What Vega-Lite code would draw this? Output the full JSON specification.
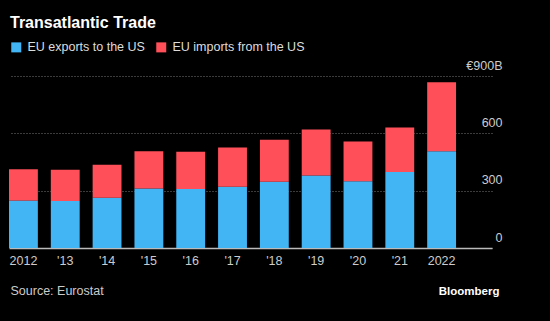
{
  "$schema": "https://vega.github.io/schema/vega-lite/v6.json",
  "width": 483,
  "height": 172,
  "autosize": "none",
  "padding": {"left": 9, "top": 76, "right": 58, "bottom": 73},
  "background": "#000000",
  "title": {
    "text": "Transatlantic Trade",
    "anchor": "start",
    "frame": "group",
    "color": "#ffffff",
    "font": "Liberation Sans",
    "fontSize": 16,
    "fontWeight": "bold",
    "dx": 1,
    "offset": 10
  },
  "data": {
    "values": [
      {"year": "2012", "series": "EU exports to the US", "value": 248},
      {"year": "2012", "series": "EU imports from the US", "value": 164},
      {"year": "2013", "series": "EU exports to the US", "value": 246},
      {"year": "2013", "series": "EU imports from the US", "value": 164},
      {"year": "2014", "series": "EU exports to the US", "value": 263},
      {"year": "2014", "series": "EU imports from the US", "value": 172},
      {"year": "2015", "series": "EU exports to the US", "value": 311},
      {"year": "2015", "series": "EU imports from the US", "value": 195},
      {"year": "2016", "series": "EU exports to the US", "value": 309},
      {"year": "2016", "series": "EU imports from the US", "value": 194},
      {"year": "2017", "series": "EU exports to the US", "value": 321},
      {"year": "2017", "series": "EU imports from the US", "value": 205},
      {"year": "2018", "series": "EU exports to the US", "value": 347},
      {"year": "2018", "series": "EU imports from the US", "value": 219},
      {"year": "2019", "series": "EU exports to the US", "value": 380},
      {"year": "2019", "series": "EU imports from the US", "value": 240},
      {"year": "2020", "series": "EU exports to the US", "value": 349},
      {"year": "2020", "series": "EU imports from the US", "value": 208},
      {"year": "2021", "series": "EU exports to the US", "value": 398},
      {"year": "2021", "series": "EU imports from the US", "value": 233},
      {"year": "2022", "series": "EU exports to the US", "value": 506},
      {"year": "2022", "series": "EU imports from the US", "value": 361}
    ]
  },
  "mark": {"type": "bar"},
  "encoding": {
    "x": {
      "field": "year",
      "type": "ordinal",
      "scale": {"paddingInner": 0.31, "paddingOuter": 0.43, "align": 0},
      "axis": {
        "title": "Source: Eurostat",
        "titleX": 1,
        "titleY": 46,
        "titleAlign": "left",
        "titleAnchor": "start",
        "titleBaseline": "alphabetic",
        "titleColor": "#cccccc",
        "titleFont": "Liberation Sans",
        "titleFontSize": 12.5,
        "titleFontWeight": "normal",
        "labelAngle": 0,
        "labelExpr": "datum.value == '2012' || datum.value == '2022' ? datum.value : \"'\" + slice(datum.value, 2)",
        "labelColor": "#cccccc",
        "labelFont": "Liberation Sans",
        "labelFontSize": 12.5,
        "labelPadding": 6,
        "ticks": false,
        "domainColor": "#bbbbbb",
        "domainWidth": 1.5,
        "grid": false
      }
    },
    "y": {
      "field": "value",
      "type": "quantitative",
      "aggregate": "sum",
      "stack": "zero",
      "scale": {"domain": [0, 900], "nice": false},
      "axis": {
        "orient": "right",
        "values": [0, 300, 600, 900],
        "labelExpr": "datum.value == 900 ? '€900B' : datum.label + '\u00a0\u00a0'",
        "labelAlign": "right",
        "labelBaseline": "alphabetic",
        "labelOffset": -7,
        "labelPadding": 10,
        "labelFlush": false,
        "labelColor": "#cccccc",
        "labelFont": "Liberation Sans",
        "labelFontSize": 12.5,
        "ticks": false,
        "domain": false,
        "grid": true,
        "gridColor": "#777777",
        "gridDash": [1, 2],
        "gridWidth": 1,
        "title": "Bloomberg",
        "titleAngle": 0,
        "titleX": 7,
        "titleY": 218,
        "titleAlign": "right",
        "titleBaseline": "alphabetic",
        "titleColor": "#ffffff",
        "titleFont": "Liberation Sans",
        "titleFontSize": 11.5,
        "titleFontWeight": "bold"
      }
    },
    "color": {
      "field": "series",
      "type": "nominal",
      "scale": {"domain": ["EU exports to the US", "EU imports from the US"], "range": ["#42b5f5", "#ff505a"]},
      "legend": {
        "title": null,
        "orient": "none",
        "legendX": 1,
        "legendY": -35,
        "direction": "horizontal",
        "symbolType": "square",
        "symbolSize": 100,
        "symbolStrokeWidth": 0,
        "labelColor": "#dddddd",
        "labelFont": "Liberation Sans",
        "labelFontSize": 12.5,
        "labelOffset": 5,
        "columnPadding": 10,
        "padding": 0
      }
    },
    "order": {"field": "series", "type": "nominal"}
  },
  "config": {"view": {"stroke": null}}
}
